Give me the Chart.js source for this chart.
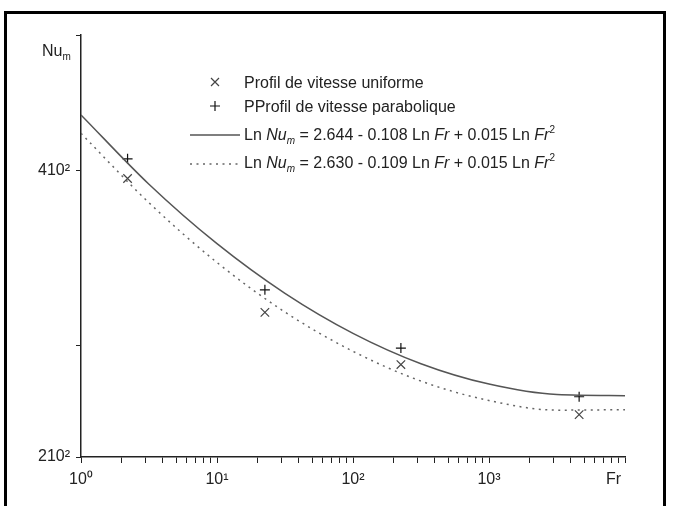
<!DOCTYPE html>
<html>
<head>
<meta charset="utf-8">
<script src="https://cdn.jsdelivr.net/npm/chart.js"></script>
<style>
  html, body { margin: 0; padding: 0; background: #fff; }
  #cadre { position: relative; width: 673px; height: 506px; overflow: hidden; background: #fff; }
  #bord { position: absolute; left: 4px; top: 11px; width: 656px; height: 530px; border: 3px solid #000; }
  canvas { position: absolute; left: 0; top: 0; }
</style>
</head>
<body>
<div id="cadre">
  <canvas id="grafica" width="673" height="506"></canvas>
  <div id="bord"></div>
</div>
<script type="text/javascript">

    // courbes (Fr, Nu_m), tous les demi-décades
    var frCourbe = [1, 3.16, 10, 31.6, 100, 316, 1000, 3160, 10000]
    var nuCourbe1 = [438.5, 391.3, 354.9, 327.1, 306.3, 291.4, 281.8, 277.0, 276.5]
    var nuCourbe2 = [425.4, 379.6, 344.1, 317.2, 297.4, 283.2, 274.3, 270.0, 270.2]

    // points de mesure
    var frMesure = [2.2, 22.5, 225, 4600]
    var nuUniforme = [395, 317, 291, 268]
    var nuParabolique = [408, 329, 299, 276]

    // graduations
    var ticksX = [1,2,3,4,5,6,7,8,9,10,20,30,40,50,60,70,80,90,100,200,300,400,500,600,700,800,900,1000,2000,3000,4000,5000,6000,7000,8000,9000,10000]
    var labelsX = {1: '10⁰', 10: '10¹', 100: '10²', 1000: '10³'}
    var ticksY = [250, 300, 400, 500]
    var labelsY = {400: '410²', 250: '210²'}

    var police = '"Liberation Sans", Arial, sans-serif'
    var encre = '#222'

    function paires(xs, ys) {
        return xs.map(function (x, i) { return {x: x, y: ys[i]} })
    }

    function texteRiche(ctx, x, base, morceaux) {
        morceaux.forEach(function (m) {
            var taille = (m.sub || m.sup) ? 10 : 16
            var dy = m.sub ? 4 : (m.sup ? -7 : 0)
            ctx.font = (m.it ? 'italic ' : '') + taille + 'px ' + police
            ctx.fillText(m.t, x, base + dy)
            x += ctx.measureText(m.t).width
        })
    }

    var legende = {
        id: 'legende',
        afterDraw: function (chart) {
            var ctx = chart.ctx
            ctx.save()
            ctx.fillStyle = encre
            ctx.textBaseline = 'alphabetic'
            ctx.textAlign = 'left'

            // titres des axes
            texteRiche(ctx, 42, 56, [{t: 'Nu'}, {t: 'm', sub: true}])
            ctx.font = '16px ' + police
            ctx.fillText('Fr', 606, 484)

            // symboles
            ctx.strokeStyle = '#444'
            ctx.lineWidth = 1.2
            ctx.beginPath()
            ctx.moveTo(211, 78); ctx.lineTo(219, 86)
            ctx.moveTo(219, 78); ctx.lineTo(211, 86)
            ctx.stroke()
            ctx.strokeStyle = '#111'
            ctx.beginPath()
            ctx.moveTo(215, 101); ctx.lineTo(215, 111)
            ctx.moveTo(210, 106); ctx.lineTo(220, 106)
            ctx.stroke()

            // traits
            ctx.strokeStyle = '#555'
            ctx.lineWidth = 1.5
            ctx.beginPath()
            ctx.moveTo(190, 135); ctx.lineTo(240, 135)
            ctx.stroke()
            ctx.strokeStyle = '#666'
            ctx.setLineDash([2, 4.5])
            ctx.beginPath()
            ctx.moveTo(190, 164); ctx.lineTo(240, 164)
            ctx.stroke()
            ctx.setLineDash([])

            ctx.fillStyle = encre
            texteRiche(ctx, 244, 88, [{t: 'Profil de vitesse uniforme'}])
            texteRiche(ctx, 244, 112, [{t: 'PProfil de vitesse parabolique'}])
            texteRiche(ctx, 244, 140, [
                {t: 'Ln '}, {t: 'Nu', it: true}, {t: 'm', it: true, sub: true},
                {t: ' = 2.644 - 0.108 Ln '}, {t: 'Fr', it: true},
                {t: ' + 0.015 Ln '}, {t: 'Fr', it: true}, {t: '2', sup: true}
            ])
            texteRiche(ctx, 244, 168, [
                {t: 'Ln '}, {t: 'Nu', it: true}, {t: 'm', it: true, sub: true},
                {t: ' = 2.630 - 0.109 Ln '}, {t: 'Fr', it: true},
                {t: ' + 0.015 Ln '}, {t: 'Fr', it: true}, {t: '2', sup: true}
            ])
            ctx.restore()
        }
    }

    var canvas = document.getElementById('grafica')
    var context = canvas.getContext('2d')

    var datos = {
        datasets: [{
            label: 'Ln Num = 2.644 - 0.108 Ln Fr + 0.015 Ln Fr2',
            data: paires(frCourbe, nuCourbe1),
            showLine: true,
            borderColor: '#555',
            borderWidth: 1.5,
            pointRadius: 0,
            cubicInterpolationMode: 'monotone'
        }, {
            label: 'Ln Num = 2.630 - 0.109 Ln Fr + 0.015 Ln Fr2',
            data: paires(frCourbe, nuCourbe2),
            showLine: true,
            borderColor: '#666',
            borderWidth: 1.5,
            borderDash: [2, 4.5],
            pointRadius: 0,
            cubicInterpolationMode: 'monotone'
        }, {
            label: 'Profil de vitesse uniforme',
            data: paires(frMesure, nuUniforme),
            showLine: false,
            pointStyle: 'crossRot',
            pointRadius: 6,
            borderColor: '#444',
            borderWidth: 1.2
        }, {
            label: 'PProfil de vitesse parabolique',
            data: paires(frMesure, nuParabolique),
            showLine: false,
            pointStyle: 'cross',
            pointRadius: 5,
            borderColor: '#111',
            borderWidth: 1.2
        }]
    }

    window.graf = new Chart(context, {
        type: 'scatter',
        data: datos,
        plugins: [legende],
        options: {
            responsive: false,
            animation: false,
            layout: {padding: {left: 0, right: 48, top: 35, bottom: 0}},
            plugins: {legend: {display: false}, tooltip: {enabled: false}},
            scales: {
                x: {
                    type: 'logarithmic',
                    min: 1,
                    max: 10000,
                    afterBuildTicks: function (s) { s.ticks = ticksX.map(function (v) { return {value: v} }) },
                    afterFit: function (s) { s.height = 49 },
                    border: {color: encre, width: 1.5},
                    grid: {drawOnChartArea: false, drawTicks: true, tickLength: 6, color: encre},
                    ticks: {
                        autoSkip: false,
                        maxRotation: 0,
                        padding: 7,
                        color: encre,
                        font: {family: police, size: 16},
                        callback: function (v) { return labelsX[v] || '' }
                    }
                },
                y: {
                    type: 'logarithmic',
                    min: 250,
                    max: 500,
                    afterBuildTicks: function (s) { s.ticks = ticksY.map(function (v) { return {value: v} }) },
                    afterFit: function (s) { s.width = 81 },
                    border: {color: encre, width: 1.5},
                    grid: {drawOnChartArea: false, drawTicks: true, tickLength: 5, color: encre},
                    ticks: {
                        autoSkip: false,
                        padding: 6,
                        color: encre,
                        font: {family: police, size: 16},
                        callback: function (v) { return labelsY[v] || '' }
                    }
                }
            }
        }
    })

</script>
</body>
</html>
